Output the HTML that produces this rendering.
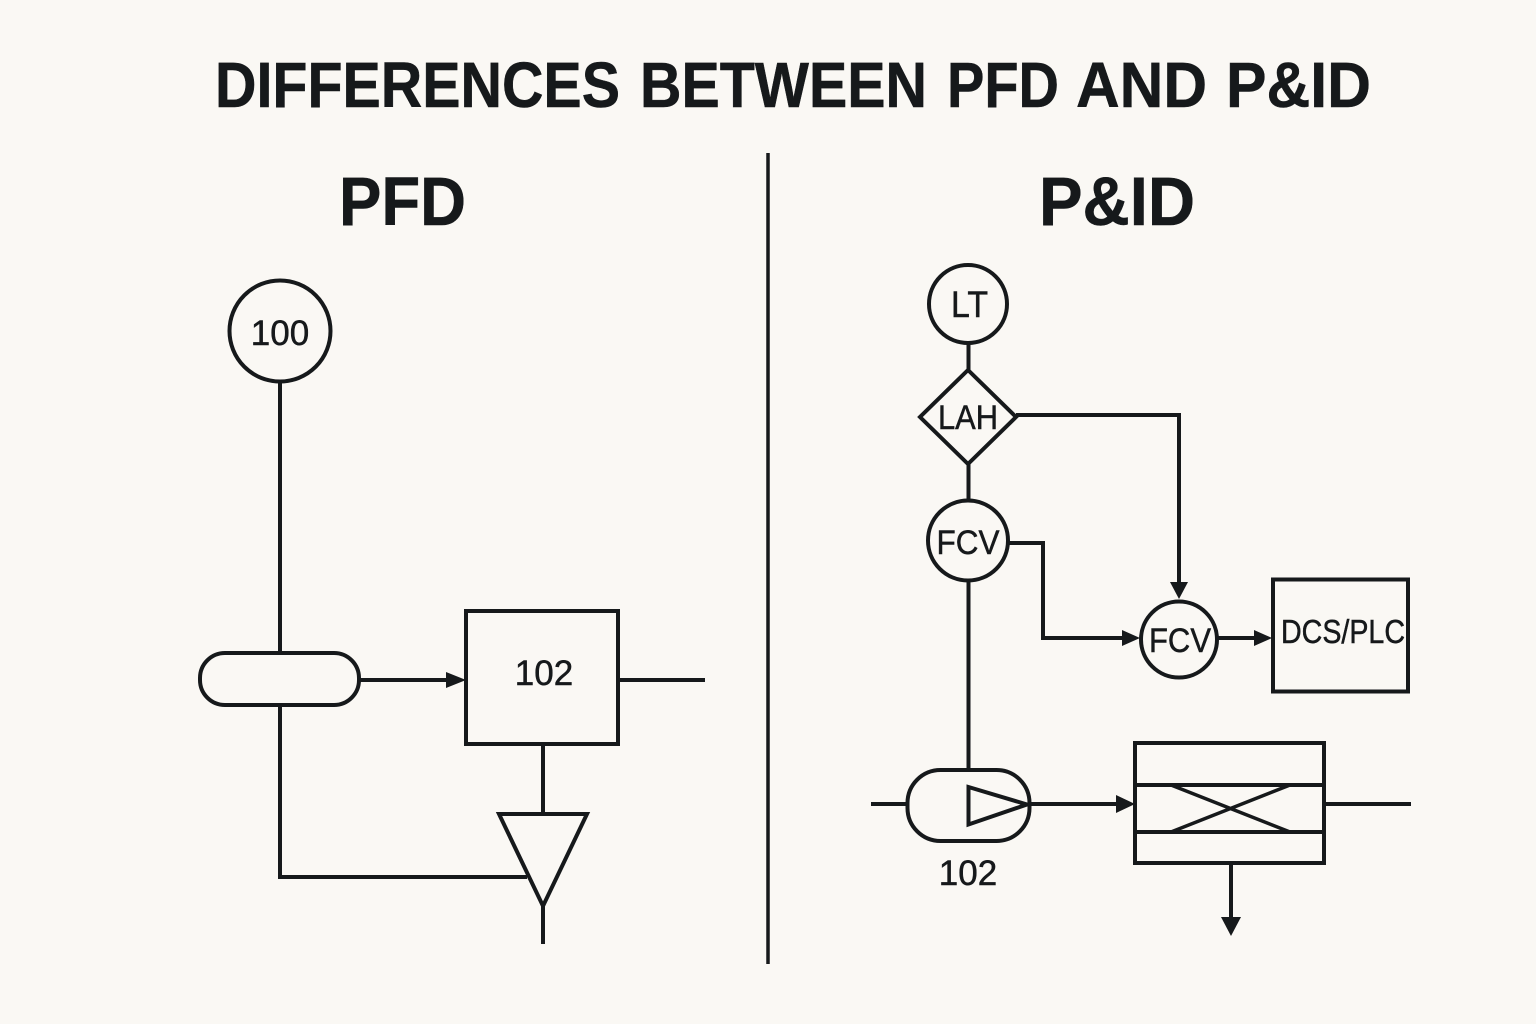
<!DOCTYPE html>
<html><head><meta charset="utf-8"><style>html,body{margin:0;padding:0;background:#faf8f4}svg{display:block}</style></head>
<body>
<svg width="1536" height="1024" viewBox="0 0 1536 1024" xmlns="http://www.w3.org/2000/svg">
<rect width="1536" height="1024" fill="#faf8f4"/>
<g font-family="'Liberation Sans',sans-serif" fill="#16191b" stroke="#16191b" stroke-width="0.5" font-weight="700">
<text x="215" y="107" font-size="64" textLength="405" lengthAdjust="spacingAndGlyphs">DIFFERENCES</text>
<text x="640" y="107" font-size="64" textLength="287" lengthAdjust="spacingAndGlyphs">BETWEEN</text>
<text x="947" y="107" font-size="64" textLength="112" lengthAdjust="spacingAndGlyphs">PFD</text>
<text x="1076" y="107" font-size="64" textLength="131" lengthAdjust="spacingAndGlyphs">AND</text>
<text x="1226" y="107" font-size="64" textLength="145" lengthAdjust="spacingAndGlyphs">P&amp;ID</text>
<text x="339" y="225" font-size="69" textLength="127" lengthAdjust="spacingAndGlyphs">PFD</text>
<text x="1039" y="225" font-size="69" textLength="156" lengthAdjust="spacingAndGlyphs">P&amp;ID</text>
</g>
<g fill="none" stroke="#16191b" stroke-width="4">
<path d="M768 153V964" stroke-width="3.5"/>
<circle cx="280" cy="331" r="50.5"/>
<path d="M280 382V653M280 705V877H527"/>
<rect x="200" y="653" width="159" height="52" rx="25"/>
<path d="M359 680H450"/>
<rect x="466" y="611" width="152" height="133"/>
<path d="M618 680H705M543 744V813"/>
<path d="M499 814H587L543 906Z"/>
<path d="M543 906V944"/>
<circle cx="968" cy="304" r="39"/>
<path d="M968.5 343V370"/>
<path d="M968 370L1016 417L968 464L920 417Z"/>
<path d="M968.5 464V500"/>
<circle cx="968" cy="540.5" r="40"/>
<path d="M968.5 581V770"/>
<path d="M1016 415H1179V585"/>
<path d="M1008 543H1043V638H1128"/>
<circle cx="1179" cy="639.5" r="38"/>
<path d="M1217 638H1258"/>
<rect x="1273" y="579.5" width="135" height="112"/>
<path d="M871 804H907"/>
<rect x="907.5" y="770" width="122" height="71" rx="33"/>
<path d="M968.5 787L1027 804.5L968.5 824.5Z" stroke-width="4"/>
<path d="M1030 804H1120"/>
<rect x="1135" y="743" width="189" height="120"/>
<path d="M1135 785H1324M1135 832H1324"/>
<path d="M1171 785L1290 832M1290 785L1171 832" stroke-width="3.5"/>
<path d="M1324 804H1411M1231 863V920"/>
</g>
<g fill="#16191b">
<path d="M466 680L446 672V688Z"/>
<path d="M1179 599L1170 582H1188Z"/>
<path d="M1140 638L1122 630V646Z"/>
<path d="M1272 638L1254 630V646Z"/>
<path d="M1135 804L1116 795V813Z"/>
<path d="M1231 936L1221 917H1241Z"/>
</g>
<g font-family="'Liberation Sans',sans-serif" fill="#16191b" stroke="#16191b" stroke-width="0.5" text-anchor="middle">
<text x="280" y="345" font-size="35">100</text>
<text x="544" y="685" font-size="35">102</text>
<text x="969.5" y="317" font-size="37" textLength="37" lengthAdjust="spacingAndGlyphs">LT</text>
<text x="968" y="429" font-size="34" textLength="60" lengthAdjust="spacingAndGlyphs">LAH</text>
<text x="968" y="554" font-size="34" textLength="63" lengthAdjust="spacingAndGlyphs">FCV</text>
<text x="1180" y="652" font-size="34" textLength="62" lengthAdjust="spacingAndGlyphs">FCV</text>
<text x="1343" y="643" font-size="33" textLength="124" lengthAdjust="spacingAndGlyphs">DCS/PLC</text>
<text x="968" y="885" font-size="35">102</text>
</g>
</svg>
</body></html>
